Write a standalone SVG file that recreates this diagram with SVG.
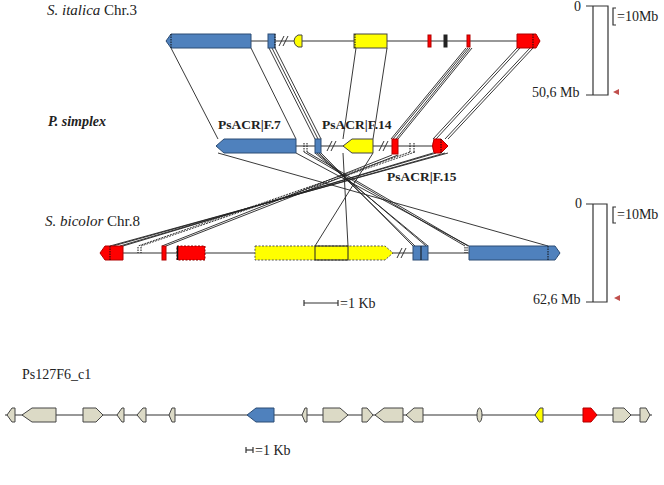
<svg xmlns="http://www.w3.org/2000/svg" width="664" height="485" viewBox="0 0 664 485">
<style>
text{font-family:"Liberation Serif","Times New Roman",serif;font-size:14px;fill:#222}
.sp{font-size:15px}
.b{font-weight:bold;font-size:13.5px}
.track{stroke:#333;stroke-width:1.2;fill:none}
.blue{fill:#4f81bd;stroke:#2c4d75;stroke-width:1}
.yel{fill:#ffff00;stroke:#444;stroke-width:1}
.yeld{fill:#ffff00;stroke:#555;stroke-width:1;stroke-dasharray:2 1.5}
.red{fill:#ff0000;stroke:#b00000;stroke-width:1}
.redd{fill:#ff0000;stroke:#800;stroke-width:1;stroke-dasharray:2 1.5}
.blk{fill:#222;stroke:#222}
.beige{fill:#dcdac6;stroke:#444;stroke-width:1}
.dash{stroke:#111;stroke-width:1;stroke-dasharray:1.5 1;fill:none}
.brk{stroke:#333;stroke-width:1;fill:none}
.con line{stroke:#222;stroke-width:0.9}
.sb{stroke:#333;stroke-width:1.2;fill:none}
.mk{fill:#c0504d}
</style>

<!-- labels -->
<g id="label-italica"><text class="sp" x="47" y="15"><tspan font-style="italic">S. italica</tspan> Chr.3</text></g>
<g id="label-simplex"><text x="48" y="126" font-weight="bold" font-style="italic" font-size="15.5">P. simplex</text></g>
<g id="label-bicolor"><text class="sp" x="45" y="226"><tspan font-style="italic">S. bicolor</tspan> Chr.8</text></g>
<g id="label-f7"><text x="218" y="129" class="b">PsACR|F.7</text></g>
<g id="label-f14"><text x="322" y="129" class="b">PsACR|F.14</text></g>
<g id="label-f15"><text x="387" y="181" class="b">PsACR|F.15</text></g>

<!-- connectors -->
<g id="connectors" class="con">
  <line x1="171" y1="48" x2="218" y2="139"/>
  <line x1="251" y1="48" x2="296" y2="139"/>
  <line x1="269" y1="48" x2="315" y2="139"/>
  <line x1="272" y1="48" x2="318" y2="139"/>
  <line x1="275" y1="48" x2="321" y2="139"/>
  <line x1="356" y1="48" x2="343" y2="139"/>
  <line x1="387" y1="48" x2="373" y2="139"/>
  <line x1="466" y1="48" x2="391" y2="139"/>
  <line x1="468" y1="48" x2="393" y2="139"/>
  <line x1="470" y1="48" x2="396" y2="139"/>
  <line x1="472" y1="48" x2="398" y2="139"/>
  <line x1="517" y1="48" x2="433" y2="139"/>
  <line x1="520" y1="48" x2="436" y2="139"/>
  <line x1="530" y1="48" x2="445" y2="139"/>
  <line x1="533" y1="48" x2="448" y2="139"/>

  <line x1="218" y1="153" x2="548" y2="246"/>
  <line x1="296" y1="153" x2="469" y2="246"/>
  <line x1="304" y1="152" x2="465" y2="246"/>
  <line x1="307" y1="152" x2="468" y2="246"/>
  <line x1="315" y1="153" x2="428" y2="246"/>
  <line x1="317" y1="153" x2="426" y2="246"/>
  <line x1="319" y1="153" x2="415" y2="246"/>
  <line x1="321" y1="153" x2="413" y2="246"/>
  <line x1="343" y1="153" x2="348" y2="246"/>
  <line x1="373" y1="153" x2="315" y2="246"/>
  <line x1="392" y1="155" x2="162" y2="246"/>
  <line x1="398" y1="155" x2="166" y2="246"/>
  <line x1="410" y1="152" x2="138" y2="246" stroke-dasharray="2 1"/>
  <line x1="415" y1="152" x2="141" y2="246" stroke-dasharray="2 1"/>
  <line x1="433" y1="153" x2="123" y2="246"/>
  <line x1="436" y1="153" x2="120" y2="246"/>
  <line x1="445" y1="153" x2="113" y2="246"/>
  <line x1="448" y1="153" x2="110" y2="246"/>
</g>

<!-- top track: S. italica -->
<g id="track-italica">
  <line class="track" x1="166" y1="41" x2="540" y2="41"/>
  <g id="it-blue1"><polygon class="blue" points="166,41 171,34 251,34 251,48 171,48"/><line class="dash" x1="171" y1="34" x2="171" y2="48"/></g>
  <g id="it-blue2"><rect class="blue" x="268" y="34" width="7" height="14"/><line class="dash" x1="275" y1="34" x2="275" y2="48"/></g>
  <g id="it-break"><line class="brk" x1="279" y1="46" x2="284" y2="36"/><line class="brk" x1="283" y1="46" x2="288" y2="36"/></g>
  <g id="it-yel1"><path class="yel" d="M302,35 V47 H298 Q294,45 294,41 Q294,37 298,35 Z"/></g>
  <g id="it-yel2"><rect class="yel" x="354" y="34" width="33" height="14"/><line class="dash" x1="355" y1="34" x2="355" y2="48"/></g>
  <g id="it-red1"><rect class="red" x="428" y="35" width="3" height="12"/></g>
  <g id="it-blk"><rect class="blk" x="444" y="35" width="3" height="12"/></g>
  <g id="it-red2"><rect class="red" x="467" y="35" width="3" height="12"/></g>
  <g id="it-red3"><polygon class="red" points="517,34 536,34 540,41 536,48 517,48"/><line class="dash" x1="533" y1="34" x2="533" y2="48"/></g>
</g>

<!-- middle track: P. simplex -->
<g id="track-simplex">
  <line class="track" x1="216" y1="146" x2="448" y2="146"/>
  <g id="ps-f7"><polygon class="blue" points="216,146 224,139 296,139 296,153 224,153"/></g>
  <g id="ps-m1"><line class="dash" x1="304" y1="143" x2="304" y2="152"/><line class="dash" x1="307" y1="143" x2="307" y2="152"/></g>
  <g id="ps-blue2"><rect class="blue" x="315" y="139" width="6" height="14"/></g>
  <g id="ps-break1"><line class="brk" x1="327" y1="151" x2="332" y2="141"/><line class="brk" x1="331" y1="151" x2="336" y2="141"/></g>
  <g id="ps-f14"><polygon class="yel" points="343,146 352,139 373,139 373,153 352,153"/></g>
  <g id="ps-break2"><line class="brk" x1="379" y1="151" x2="384" y2="141"/><line class="brk" x1="383" y1="151" x2="388" y2="141"/></g>
  <g id="ps-red1"><rect class="red" x="392" y="139" width="6" height="15"/></g>
  <g id="ps-m2"><line class="dash" x1="410" y1="143" x2="410" y2="152"/><line class="dash" x1="414" y1="143" x2="414" y2="152"/></g>
  <g id="ps-f15"><path class="red" d="M434,139 H441 L448,146 L441,153 H434 Q431,146 434,139 Z"/><line class="dash" x1="441" y1="139" x2="441" y2="153"/></g>
</g>

<!-- bottom track: S. bicolor -->
<g id="track-bicolor">
  <line class="track" x1="100" y1="253" x2="560" y2="253"/>
  <g id="sb-red1"><polygon class="red" points="100,253 105,246 123,246 123,260 105,260"/><line class="dash" x1="110" y1="246" x2="110" y2="260"/></g>
  <g id="sb-m1"><line class="dash" x1="138" y1="247" x2="138" y2="253"/><line class="dash" x1="141" y1="247" x2="141" y2="253"/></g>
  <g id="sb-red2"><rect class="red" x="162" y="246" width="4" height="14"/></g>
  <g id="sb-red3"><rect class="redd" x="177" y="246" width="28" height="14"/><line x1="177.5" y1="246" x2="177.5" y2="260" stroke="#111" stroke-width="1.5"/></g>
  <g id="sb-yel"><polygon class="yeld" points="255,246 385,246 393,253 385,260 255,260"/><rect x="315" y="246" width="33" height="14" fill="none" stroke="#222" stroke-width="1"/></g>
  <g id="sb-break"><line class="brk" x1="397" y1="258" x2="402" y2="248"/><line class="brk" x1="401" y1="258" x2="406" y2="248"/></g>
  <g id="sb-blue1"><rect class="blue" x="413" y="246" width="15" height="14"/><line x1="421" y1="246" x2="421" y2="260" stroke="#111" stroke-width="1"/></g>
  <g id="sb-m2"><line class="dash" x1="465" y1="247" x2="465" y2="253"/><line class="dash" x1="467" y1="247" x2="467" y2="253"/></g>
  <g id="sb-blue2"><polygon class="blue" points="469,246 555,246 560,253 555,260 469,260"/><line class="dash" x1="548" y1="246" x2="548" y2="260"/></g>
</g>

<!-- chromosome scale bars -->
<g id="scale-italica">
  <text x="574" y="11">0</text>
  <polyline class="sb" points="586,6 608,6 608,95 586,95"/>
  <line class="sb" x1="593" y1="6" x2="593" y2="95"/>
  <polyline class="sb" points="616,8 613,8 613,25 616,25"/>
  <text x="617" y="21">=10Mb</text>
  <text x="532" y="97">50,6 Mb</text>
  <polygon class="mk" points="613,92 619,89 619,95"/>
</g>
<g id="scale-bicolor">
  <text x="575" y="208">0</text>
  <polyline class="sb" points="586,204 607,204 607,302 586,302"/>
  <line class="sb" x1="593" y1="204" x2="593" y2="302"/>
  <polyline class="sb" points="616,207 613,207 613,223 616,223"/>
  <text x="617" y="219">=10Mb</text>
  <text x="533" y="304">62,6 Mb</text>
  <polygon class="mk" points="614,298 620,295 620,301"/>
</g>
<g id="scale-kb1">
  <line class="sb" x1="304" y1="303" x2="338" y2="303"/>
  <line class="sb" x1="304" y1="300" x2="304" y2="306"/>
  <line class="sb" x1="338" y1="300" x2="338" y2="306"/>
  <text x="340" y="308" font-size="15">=1 Kb</text>
</g>

<!-- Ps127F6_c1 -->
<g id="label-ps127"><text x="22" y="379" font-size="15.5">Ps127F6_c1</text></g>
<g id="track-ps127">
  <line class="track" x1="5" y1="415" x2="652" y2="415"/>
  <polygon class="beige" points="7,415 12,408 15,408 15,422 12,422"/>
  <polygon class="beige" points="22,415 32,408 56,408 56,422 32,422"/>
  <polygon class="beige" points="83,408 96,408 103,415 96,422 83,422"/>
  <polygon class="beige" points="117,415 122,408 124,408 124,422 122,422"/>
  <polygon class="beige" points="137,415 143,408 146,408 146,422 143,422"/>
  <polygon class="beige" points="169,415 172,408 175,408 175,422 172,422"/>
  <polygon class="blue" points="247,415 256,408 274,408 274,422 256,422"/>
  <polygon class="beige" points="302,415 305,408 307,408 307,422 305,422"/>
  <polygon class="beige" points="323,408 340,408 348,415 340,422 323,422"/>
  <polygon class="beige" points="362,408 367,408 373,415 367,422 362,422"/>
  <polygon class="beige" points="375,415 384,408 403,408 403,422 384,422"/>
  <polygon class="beige" points="406,415 414,408 423,408 423,422 414,422"/>
  <ellipse class="beige" cx="479.5" cy="415" rx="2.5" ry="7"/>
  <polygon class="yel" points="535,415 540,408 543,408 543,422 540,422"/>
  <polygon class="red" points="583,408 591,408 597,415 591,422 583,422"/>
  <polygon class="beige" points="613,408 624,408 631,415 624,422 613,422"/>
  <polygon class="beige" points="640,408 646,408 650,415 646,422 640,422"/>
</g>
<g id="scale-kb2">
  <line class="sb" x1="246" y1="450" x2="253" y2="450"/>
  <line class="sb" x1="246" y1="447" x2="246" y2="453"/>
  <line class="sb" x1="253" y1="447" x2="253" y2="453"/>
  <text x="255" y="455" font-size="15">=1 Kb</text>
</g>
</svg>
